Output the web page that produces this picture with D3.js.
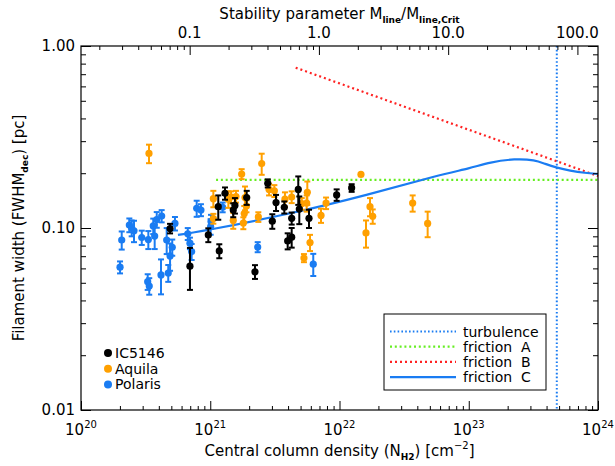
<!DOCTYPE html>
<html><head><meta charset="utf-8">
<script src="https://cdn.jsdelivr.net/npm/d3@7"></script>
<style>
html,body{margin:0;padding:0;background:#fff;}
svg{display:block;}
text{font-family:"DejaVu Sans",sans-serif;fill:#000;}
</style></head>
<body>
<svg id="c" width="615" height="466"></svg>
<script>
// ---------- DATA ----------
// log10 of central column density N_H2 [cm^-2], filament width [pc], error [pc]
const polarisLogN = [20.302,20.315,20.374,20.392,20.410,20.470,20.521,20.516,20.528,20.559,20.570,20.586,20.619,20.624,20.663,20.675,20.689,20.706,20.727,20.826,20.843,20.856,20.895,20.928,21.003,21.006,21.096,21.367,21.797];
const polarisW    = [0.0609,0.0859,0.1038,0.1000,0.0966,0.0887,0.0864,0.0507,0.0480,0.1026,0.0903,0.1113,0.0552,0.1164,0.0859,0.0566,0.0702,0.0784,0.1059,0.0929,0.0825,0.0742,0.1282,0.1256,0.1018,0.1085,0.1300,0.0786,0.0633];
const polarisErr  = [0.0046,0.0098,0.0090,0.0100,0.0130,0.0080,0.0098,0.0050,0.0050,0.0100,0.0137,0.0110,0.0120,0.0090,0.0140,0.0060,0.0120,0.0080,0.0090,0.0070,0.0060,0.0075,0.0130,0.0095,0.0100,0.0096,0.0080,0.0050,0.0088];

const ic5146LogN = [20.689,20.843,20.985,21.062,21.070,21.114,21.178,21.191,21.282,21.346,21.445,21.480,21.509,21.573,21.599,21.630,21.630,21.681,21.689,21.764,21.978,22.094];
const ic5146W    = [0.0994,0.0617,0.0916,0.1310,0.0748,0.1550,0.1256,0.1330,0.1470,0.0575,0.1760,0.1090,0.1380,0.1300,0.0849,0.0890,0.1130,0.1630,0.1270,0.1130,0.1520,0.1660];
const ic5146Err  = [0.0060,0.0160,0.0080,0.0200,0.0066,0.0120,0.0110,0.0130,0.0130,0.0050,0.0090,0.0100,0.0140,0.0099,0.0086,0.0110,0.0086,0.0290,0.0220,0.0130,0.0110,0.0080];

const aquilaLogN = [20.526,21.024,21.024,21.140,21.161,21.178,21.199,21.243,21.256,21.263,21.269,21.280,21.372,21.398,21.455,21.496,21.578,21.630,21.708,21.746,21.751,21.725,21.772,21.857,21.896,22.166,22.205,22.236,22.257,22.566,22.682];
const aquilaW    = [0.257,0.145,0.1126,0.144,0.148,0.110,0.149,0.198,0.1065,0.120,0.147,0.132,0.115,0.226,0.163,0.160,0.144,0.148,0.136,0.137,0.157,0.0684,0.0832,0.1172,0.137,0.197,0.094,0.131,0.116,0.137,0.106];
const aquilaErr  = [0.030,0.015,0.007,0.015,0.011,0.011,0.011,0.0125,0.008,0.012,0.022,0.010,0.007,0.030,0.012,0.012,0.013,0.011,0.010,0.014,0.023,0.0035,0.0085,0.0105,0.010,0,0.016,0.015,0.0105,0.014,0.017];

// model curves
const frictionALogN = [21.045, 24.0];
const frictionAW    = [0.184, 0.184];
const frictionBLogN = [21.661, 24.0];
const frictionBW    = [0.76, 0.193];
const frictionCLogN = [20.750,20.921,21.617,22.213,22.778,23.010,23.164,23.358,23.513,23.590,23.683,23.783,23.899,24.0];
const frictionCW    = [0.0916,0.0955,0.1194,0.1517,0.1963,0.2128,0.2300,0.2404,0.2366,0.2250,0.2143,0.2065,0.2005,0.1982];
const turbulenceN   = 4.8e23;

// stability parameter: M_line/M_line,crit = N / critN
const critN = 6.93e21;

const bottomTicks = [20,21,22,23,24];
const topTicks = [0.1,1,10,100];
const topTickLabels = ["0.1","1.0","10.0","100.0"];
const yTicks = [1,0.1,0.01];
const yTickLabels = ["1.00","0.10","0.01"];

const legendSeries = ["IC5146","Aquila","Polaris"];
const legendLines = ["turbulence","friction  A","friction  B","friction  C"];

// ---------- STYLE ----------
const C_BLACK="#000000", C_ORANGE="#ffa000", C_BLUE="#1a7cf2", C_GREEN="#66ee22", C_RED="#ff2222";

const svg = d3.select("#c");
const L=81,R=598,T=46,B=410;
const x = d3.scaleLog().domain([1e20,1e24]).range([L,R]);
const y = d3.scaleLog().domain([0.01,1]).range([B,T]);
const xTop = d3.scaleLog().domain([1e20/critN,1e24/critN]).range([L,R]);

function minors(lo,hi){const a=[];for(let e=lo;e<hi;e++){for(let k=2;k<=9;k++)a.push(k*Math.pow(10,e));}return a;}

// data lines
const plot = svg.append("g");
const lineGen = d3.line().x(d=>x(Math.pow(10,d[0]))).y(d=>y(d[1]));

// turbulence
plot.append("line").attr("x1",x(turbulenceN)).attr("x2",x(turbulenceN)).attr("y1",T).attr("y2",B)
  .attr("stroke",C_BLUE).attr("stroke-width",2).attr("stroke-dasharray","1.6,2.2");
// friction A
plot.append("path").attr("d",lineGen(frictionALogN.map((v,i)=>[v,frictionAW[i]])))
  .attr("fill","none").attr("stroke",C_GREEN).attr("stroke-width",2.2).attr("stroke-dasharray","2,2.8");
// friction B
plot.append("path").attr("d",lineGen(frictionBLogN.map((v,i)=>[v,frictionBW[i]])))
  .attr("fill","none").attr("stroke",C_RED).attr("stroke-width",2.2).attr("stroke-dasharray","2,3");
// friction C
plot.append("path").attr("d",d3.line().x(d=>x(Math.pow(10,d[0]))).y(d=>y(d[1])).curve(d3.curveBasis)(frictionCLogN.map((v,i)=>[v,frictionCW[i]])))
  .attr("fill","none").attr("stroke",C_BLUE).attr("stroke-width",2.2);

// points
function drawSeries(logN,w,err,color){
  const g = plot.append("g");
  logN.forEach((ln,i)=>{
    const cx = x(Math.pow(10,ln)), cy=y(w[i]);
    if(err[i]>0){
      const y1=y(w[i]+err[i]), y2=y(w[i]-err[i]);
      g.append("line").attr("x1",cx).attr("x2",cx).attr("y1",y1).attr("y2",y2).attr("stroke",color).attr("stroke-width",2);
      g.append("line").attr("x1",cx-3).attr("x2",cx+3).attr("y1",y1).attr("y2",y1).attr("stroke",color).attr("stroke-width",2);
      g.append("line").attr("x1",cx-3).attr("x2",cx+3).attr("y1",y2).attr("y2",y2).attr("stroke",color).attr("stroke-width",2);
    }
    g.append("circle").attr("cx",cx).attr("cy",cy).attr("r",3.6).attr("fill",color);
  });
}
drawSeries(polarisLogN,polarisW,polarisErr,C_BLUE);
drawSeries(aquilaLogN,aquilaW,aquilaErr,C_ORANGE);
drawSeries(ic5146LogN,ic5146W,ic5146Err,C_BLACK);

// ---------- AXES ----------
const ax = svg.append("g");
function styleAxis(g){g.select(".domain").remove();g.selectAll("line").attr("stroke","#000").attr("stroke-width",1);g.selectAll("text").remove();}
// bottom
ax.append("g").attr("transform",`translate(0,${B})`).call(d3.axisBottom(x).tickValues(bottomTicks.map(e=>Math.pow(10,e))).tickSize(-9)).call(styleAxis);
ax.append("g").attr("transform",`translate(0,${B})`).call(d3.axisBottom(x).tickValues(minors(20,24)).tickSize(-4)).call(styleAxis);
// top
ax.append("g").attr("transform",`translate(0,${T})`).call(d3.axisTop(xTop).tickValues(topTicks).tickSize(-9)).call(styleAxis);
ax.append("g").attr("transform",`translate(0,${T})`).call(d3.axisTop(xTop).tickValues(minors(-2,3).filter(v=>xTop(v)>=L&&xTop(v)<=R)).tickSize(-4)).call(styleAxis);
// left
ax.append("g").attr("transform",`translate(${L},0)`).call(d3.axisLeft(y).tickValues(yTicks).tickSize(-10)).call(styleAxis);
ax.append("g").attr("transform",`translate(${L},0)`).call(d3.axisLeft(y).tickValues(minors(-2,0)).tickSize(-5)).call(styleAxis);
// right
ax.append("g").attr("transform",`translate(${R},0)`).call(d3.axisRight(y).tickValues(yTicks).tickSize(-10)).call(styleAxis);
ax.append("g").attr("transform",`translate(${R},0)`).call(d3.axisRight(y).tickValues(minors(-2,0)).tickSize(-5)).call(styleAxis);
// frame
svg.append("rect").attr("x",L).attr("y",T).attr("width",R-L).attr("height",B-T).attr("fill","none").attr("stroke","#000").attr("stroke-width",1.2);

// tick labels
const FS=15;
bottomTicks.forEach(e=>{
  const t=svg.append("text").attr("x",x(Math.pow(10,e))).attr("y",B+25).attr("text-anchor","middle").attr("font-size",FS);
  t.append("tspan").text("10");
  t.append("tspan").attr("dy",-7).attr("font-size",10).text(e);
});
topTicks.forEach((v,i)=>{
  svg.append("text").attr("x",xTop(v)).attr("y",T-8).attr("text-anchor","middle").attr("font-size",FS).text(topTickLabels[i]);
});
yTicks.forEach((v,i)=>{
  svg.append("text").attr("x",L-6).attr("y",y(v)+5).attr("text-anchor","end").attr("font-size",FS).text(yTickLabels[i]);
});

// axis titles
const bt=svg.append("text").attr("x",(L+R)/2).attr("y",B+46).attr("text-anchor","middle").attr("font-size",FS);
bt.append("tspan").text("Central column density (N");
bt.append("tspan").attr("dy",4).attr("font-size",9).attr("font-weight","bold").text("H2");
bt.append("tspan").attr("dy",-4).text(") [cm");
bt.append("tspan").attr("dy",-7).attr("font-size",10).text("−2");
bt.append("tspan").attr("dy",7).text("]");

const tt=svg.append("text").attr("x",(L+R)/2).attr("y",19).attr("text-anchor","middle").attr("font-size",FS);
tt.append("tspan").text("Stability parameter M");
tt.append("tspan").attr("dy",4).attr("font-size",9).attr("font-weight","bold").text("line");
tt.append("tspan").attr("dy",-4).text("/M");
tt.append("tspan").attr("dy",4).attr("font-size",9).attr("font-weight","bold").text("line,Crit");

const lt=svg.append("text").attr("transform",`translate(24,${(T+B)/2}) rotate(-90)`).attr("text-anchor","middle").attr("font-size",FS);
lt.append("tspan").text("Filament width (FWHM");
lt.append("tspan").attr("dy",4).attr("font-size",9).attr("font-weight","bold").text("dec");
lt.append("tspan").attr("dy",-4).text(") [pc]");

// legend: series
const sColors=[C_BLACK,C_ORANGE,C_BLUE];
legendSeries.forEach((s,i)=>{
  svg.append("circle").attr("cx",108).attr("cy",353+i*15.7).attr("r",4).attr("fill",sColors[i]);
  svg.append("text").attr("x",115).attr("y",358+i*15.7).attr("font-size",14).text(s);
});
// legend: lines
svg.append("rect").attr("x",384).attr("y",314).attr("width",162).attr("height",76).attr("fill","#fff").attr("stroke","#000").attr("stroke-width",1);
const lStyles=[{c:C_BLUE,d:"1.6,2.2"},{c:C_GREEN,d:"2,2.8"},{c:C_RED,d:"2,3"},{c:C_BLUE,d:null}];
legendLines.forEach((s,i)=>{
  const yy=331.5+i*15.2;
  const ln=svg.append("line").attr("x1",390).attr("x2",456).attr("y1",yy).attr("y2",yy).attr("stroke",lStyles[i].c).attr("stroke-width",2.2);
  if(lStyles[i].d) ln.attr("stroke-dasharray",lStyles[i].d);
  svg.append("text").attr("x",463).attr("y",yy+5).attr("font-size",14).attr("xml:space","preserve").style("white-space","pre").text(s);
});
</script>
</body></html>
